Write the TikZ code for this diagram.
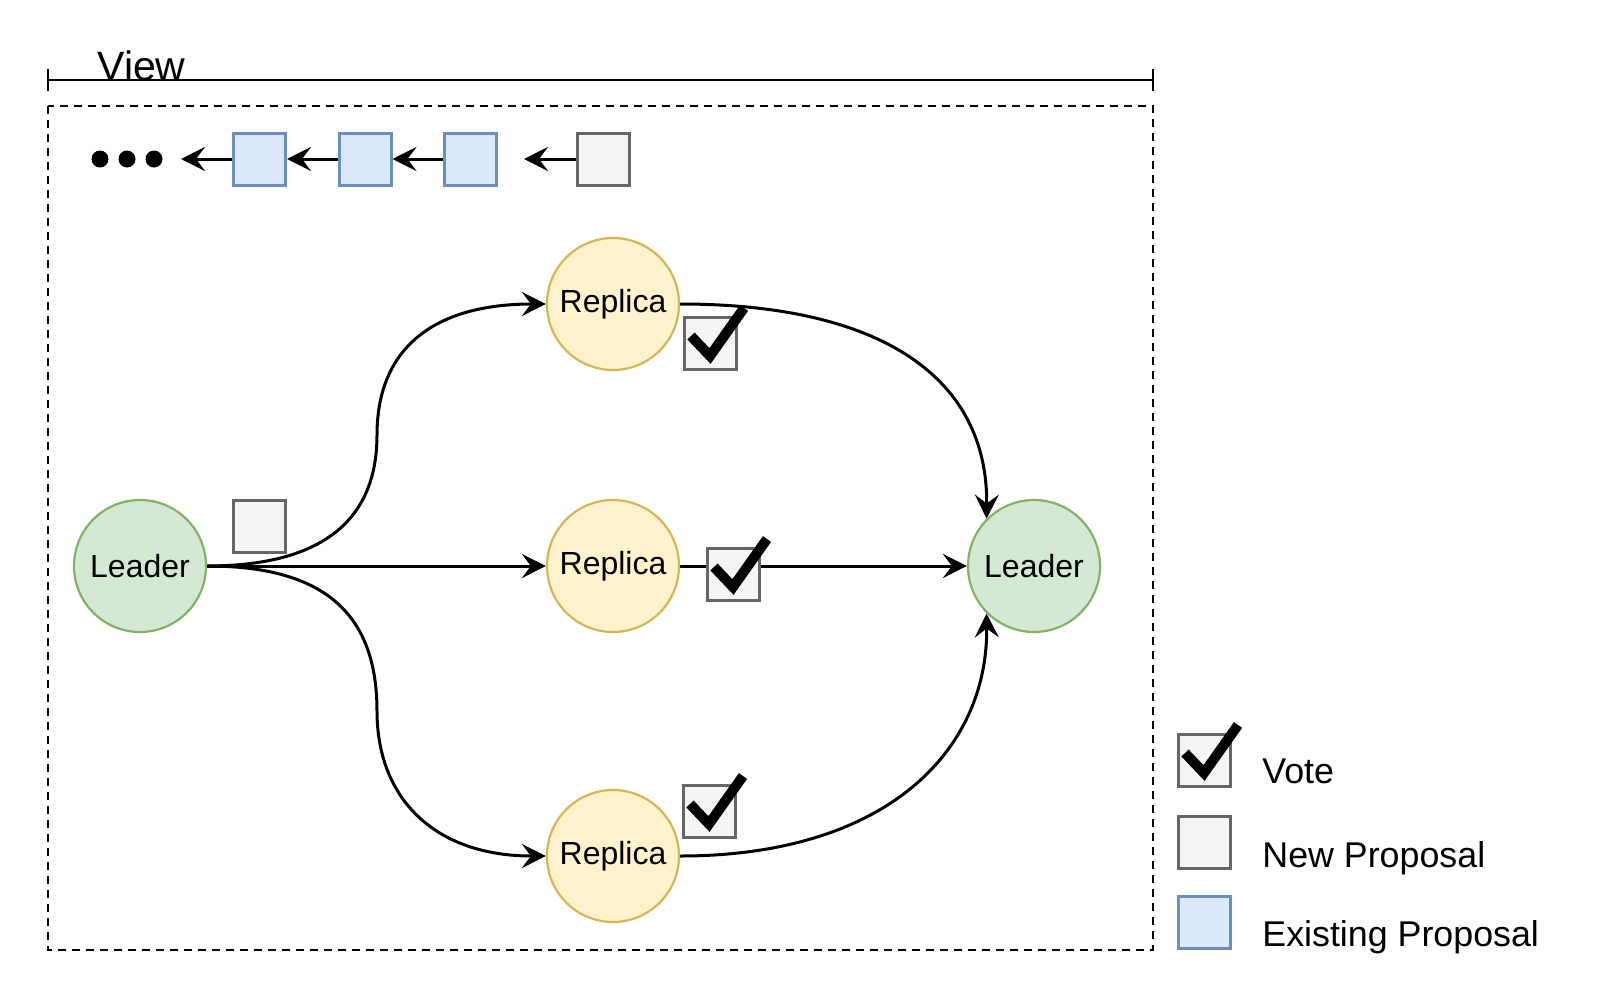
\documentclass[tikz,border=0pt]{standalone}
\usepackage{fontspec}
\setmainfont{Liberation Sans}
\usetikzlibrary{arrows.meta}
\definecolor{grayfill}{HTML}{F5F5F5}
\definecolor{graydraw}{HTML}{666666}
\definecolor{bluefill}{HTML}{DAE8FC}
\definecolor{bluedraw}{HTML}{6C8EBF}
\definecolor{yelfill}{HTML}{FFF2CC}
\definecolor{yeldraw}{HTML}{D6B656}
\definecolor{grnfill}{HTML}{D5E8D4}
\definecolor{grndraw}{HTML}{82B366}
\tikzset{
  conn/.style={line width=1.5pt, -{Stealth[length=12pt,width=12pt,inset=4.5pt]}},
  leadernode/.style={circle, draw=grndraw, fill=grnfill, line width=1.1pt, minimum size=66pt, inner sep=0pt, font=\fontsize{16}{19}\selectfont},
  replicanode/.style={circle, draw=yeldraw, fill=yelfill, line width=1.1pt, minimum size=66pt, inner sep=0pt, font=\fontsize{16}{19}\selectfont},
  newbox/.style={rectangle, draw=graydraw, fill=grayfill, line width=1.5pt, minimum size=26pt, inner sep=0pt},
  oldbox/.style={rectangle, draw=bluedraw, fill=bluefill, line width=1.5pt, minimum size=26pt, inner sep=0pt},
  checkline/.style={line width=5pt, line join=miter, line cap=butt},
  legendtext/.style={anchor=base west, inner sep=0pt, font=\fontsize{17.9}{21}\selectfont},
}
\newcommand{\mycheck}[2]{\draw[checkline] ({#1-19},{#2-7}) -- ({#1},{#2+13}) -- ({#1+34},{#2-35});}
\begin{document}
\begin{tikzpicture}[x=0.5pt,y=-0.5pt]
\useasboundingbox (0,0) rectangle (1600,1001);
% View bar
\draw[line width=1.4pt] (48,80) -- (1153,80);
\draw[line width=1.4pt] (48,69) -- (48,91);
\draw[line width=1.4pt] (1153,69) -- (1153,91);
\node[anchor=base west, inner sep=0pt, font=\fontsize{20.5}{24}\selectfont] (viewlbl) at (97,80) {View};
% dashed frame
\draw[line width=1.3pt, dash pattern=on 4pt off 3pt] (48,106) rectangle (1153,950);
% chain of proposals
\fill (100,159) circle (8.5) (127,159) circle (8.5) (154,159) circle (8.5);
\coordinate (dotsend) at (181,159);
\node[oldbox] (b1) at (259.5,159) {};
\node[oldbox] (b2) at (365,159) {};
\node[oldbox] (b3) at (470.5,159) {};
\node[newbox] (bn) at (603,159) {};
\coordinate (gapend) at (524,159);
\draw[conn] (b1.west) -- (dotsend);
\draw[conn] (b2.west) -- (b1.east);
\draw[conn] (b3.west) -- (b2.east);
\draw[conn] (bn.west) -- (gapend);
% nodes
\node[leadernode] (L1) at (140,566) {Leader};
\node[replicanode] (R1) at (613,304) {Replica};
\node[replicanode] (R2) at (613,566) {Replica};
\node[replicanode] (R3) at (613,856) {Replica};
\node[leadernode] (L2) at (1034,566) {Leader};
\node[newbox] (prop) at (259,526.5) {};
% edges
\draw[conn] (L1.east) .. controls (320,566) and (377,522) .. (377,435)
   .. controls (377,348) and (434,304) .. (R1.west);
\draw[conn] (L1.east) -- (R2.west);
\draw[conn] (L1.east) .. controls (320,566) and (377,610) .. (377,711)
   .. controls (377,798) and (434,856) .. (R3.west);
\draw[conn] (R1.east) .. controls (885,304) and (988,380) .. (L2.135);
\draw[conn] (R2.east) -- (L2.west);
\draw[conn] (R3.east) .. controls (885,856) and (988,752) .. (L2.225);
% votes
\node[newbox] (v1) at (710,343) {};
\mycheck{710}{343}
\node[newbox] (v2) at (733,574) {};
\mycheck{733}{574}
\node[newbox] (v3) at (709,811) {};
\mycheck{709}{811}
% legend
\node[newbox] (lg1) at (1204,760) {};
\mycheck{1204}{760}
\node[newbox] (lg2) at (1204,842) {};
\node[oldbox] (lg3) at (1204,922) {};
\node[legendtext] (t1) at (1262,783) {Vote};
\node[legendtext] (t2) at (1262,867) {New Proposal};
\node[legendtext] (t3) at (1262,946) {Existing Proposal};
\end{tikzpicture}
\end{document}
